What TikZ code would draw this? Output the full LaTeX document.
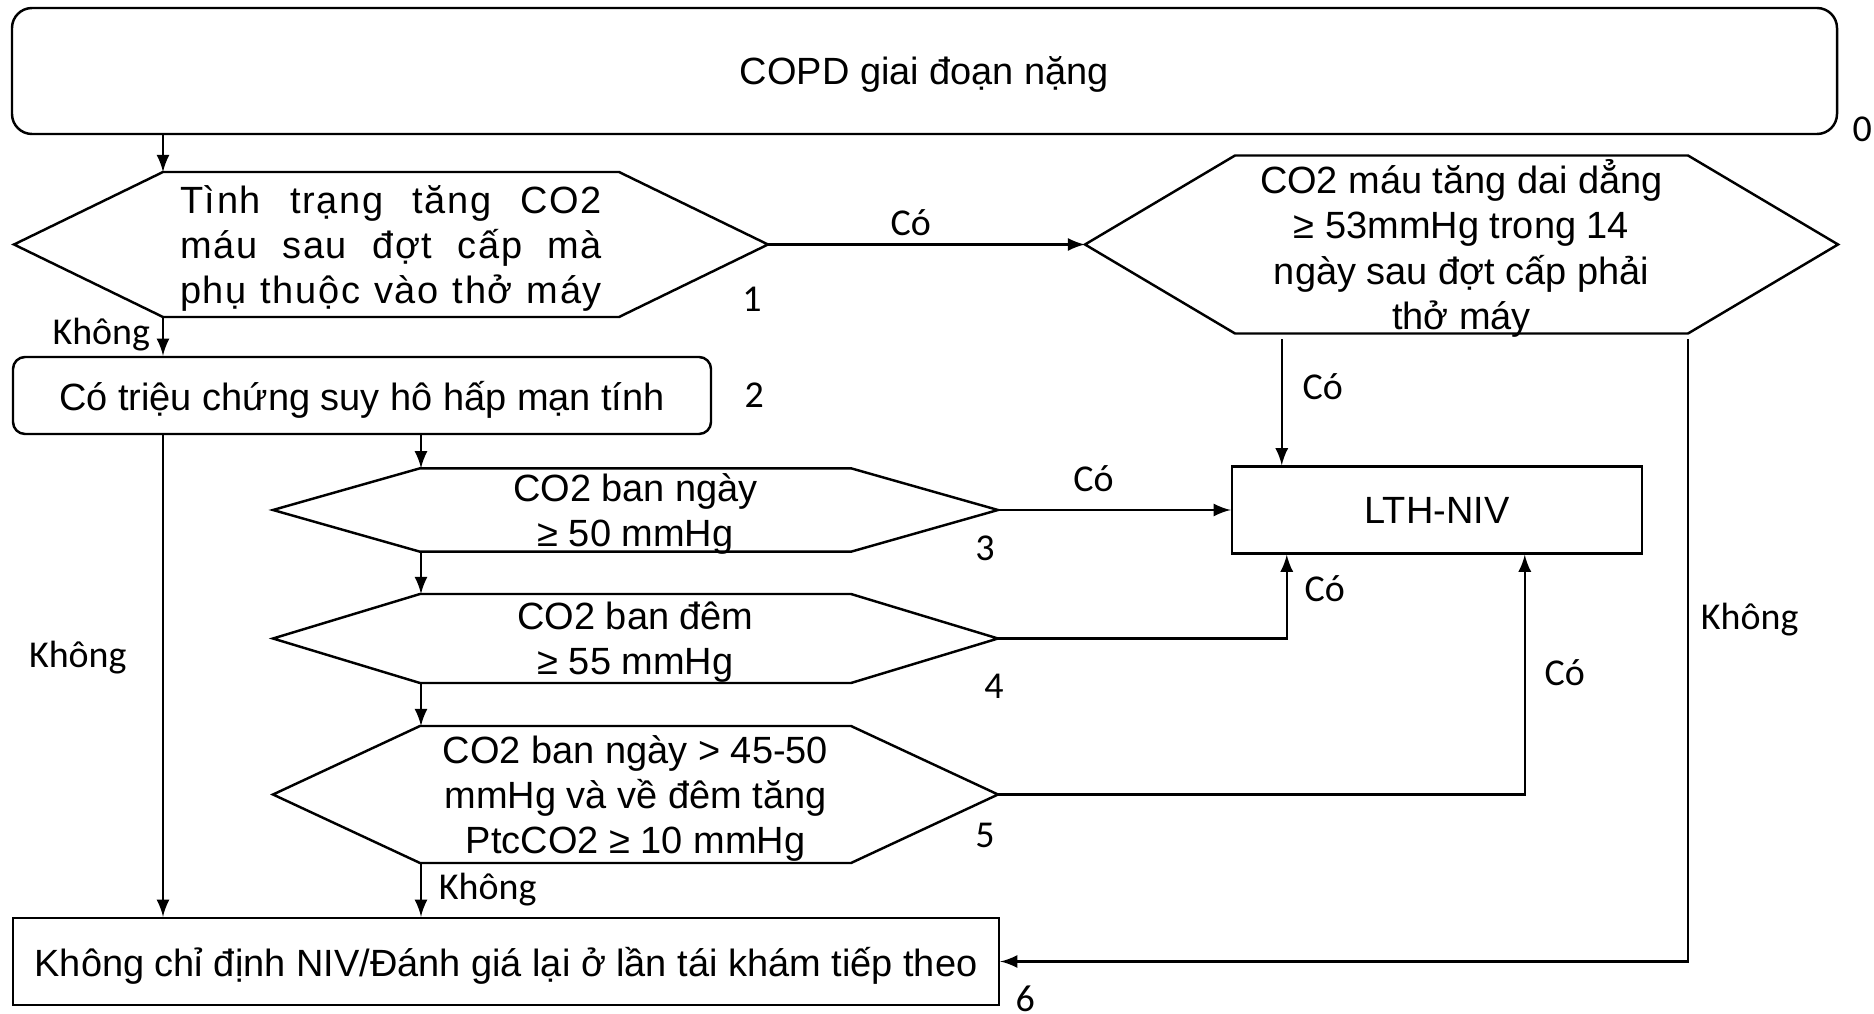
\documentclass[tikz,border=0pt]{standalone}
\usepackage{fontspec}
\setmainfont{Liberation Sans}
\newfontfamily\lblfont{Carlito}
\usetikzlibrary{arrows, calc, positioning}

\tikzstyle{roundbox} = [rectangle, rounded corners=0.2cm, minimum width=18.25cm, minimum height=1.26cm, text centered, text depth=0pt, draw=black, line width=0.7pt]
\tikzstyle{plainbox} = [rectangle, minimum height=0.87cm, text centered, text depth=0pt, draw=black, line width=0.7pt]
\tikzstyle{hexcell} = [rectangle, inner sep=0pt, outer sep=0pt, minimum width=7.25cm, align=center, text depth=0pt]
\tikzstyle{arrow} = [line width=0.7pt,->,>=latex]
\tikzstyle{yesno} = [font=\lblfont\fontsize{10.8}{12.9}\selectfont, text depth=0pt]
\tikzstyle{stepno} = [font=\lblfont\fontsize{10.8}{12.9}\selectfont, inner sep=0pt]

\newcommand{\hexframe}[2]{\draw [line width=0.7pt] (#1.west) -- ([xshift=#2]#1.north west) -- ([xshift=-#2]#1.north east) -- (#1.east) -- ([xshift=-#2]#1.south east) -- ([xshift=#2]#1.south west) -- cycle;}

\begin{document}
\begin{tikzpicture}[node distance=2cm, font=\fontsize{10.8}{12.9}\selectfont]
\useasboundingbox (0,0) rectangle (18.74,-10.14);

\node (start) [roundbox] at (9.245,-0.71) {COPD giai đoạn nặng};

\node (dep) [hexcell, below of=start, xshift=-5.335cm, yshift=0.265cm, minimum width=7.54cm, minimum height=1.45cm, font=\fontsize{10.8}{12.9}\selectfont\addfontfeatures{LetterSpace=4.5}] {\makebox[4.22cm][s]{Tình trạng tăng CO2}\\ \makebox[4.22cm][s]{máu sau đợt cấp mà}\\ \makebox[4.22cm][s]{phụ thuộc vào thở máy}};

\node (late) [hexcell, right of=dep, xshift=8.705cm, minimum width=7.53cm, minimum height=1.78cm] {CO2 máu tăng dai dẳng\\ ≥ 53mmHg trong 14\\ ngày sau đợt cấp phải\\ thở máy};

\node (symp) [plainbox, below of=dep, xshift=-0.29cm, yshift=0.49cm, rounded corners=0.12cm, minimum width=6.98cm, minimum height=0.77cm] {Có triệu chứng suy hô hấp mạn tính};

\node (day) [hexcell, below of=symp, xshift=2.735cm, yshift=0.855cm, minimum height=0.834cm] {CO2 ban ngày\\ ≥ 50 mmHg};

\node (night) [hexcell, below of=day, yshift=0.715cm, minimum height=0.89cm] {CO2 ban đêm\\ ≥ 55 mmHg};

\node (combo) [hexcell, below of=night, yshift=0.44cm, minimum height=1.37cm] {CO2 ban ngày > 45-50\\ mmHg và về đêm tăng\\ PtcCO2 ≥ 10 mmHg};

\node (niv) [plainbox, right of=day, xshift=6.015cm, minimum width=4.10cm] {LTH-NIV};

\node (noniv) [plainbox, below of=combo, xshift=-1.295cm, yshift=0.33cm, minimum width=9.86cm] {Không chỉ định NIV/Đánh giá lại ở lần tái khám tiếp theo};

\hexframe{dep}{1.49cm}
\hexframe{late}{1.50cm}
\hexframe{day}{1.47cm}
\hexframe{night}{1.47cm}
\hexframe{combo}{1.47cm}

% step numbers
\node (n0) [stepno] at ($(start.south east)+(0.24,0.06)$) {0};
\node (n1) [stepno] at ($(dep.south east)+(-0.16,0.18)$) {1};
\node (n2) [stepno] at ($(symp.east)+(0.42,0)$) {2};
\node (n3) [stepno] at ($(day.south east)+(-0.13,0.03)$) {3};
\node (n4) [stepno] at ($(night.south east)+(-0.04,-0.03)$) {4};
\node (n5) [stepno] at ($(combo.south east)+(-0.13,0.28)$) {5};
\node (n6) [stepno] at ($(noniv.south east)+(0.25,0.07)$) {6};

\coordinate (deptop) at ([xshift=1.49cm]dep.north west);
\coordinate (depbot) at ([xshift=1.49cm]dep.south west);
\coordinate (latebot) at ([xshift=-1.5cm]late.south east);
\coordinate (nivtop) at ([xshift=0.51cm]niv.north west);
\coordinate (daytop) at ([xshift=1.48cm]day.north west);
\coordinate (daybot) at ([xshift=1.48cm]day.south west);
\coordinate (nighttop) at ([xshift=1.48cm]night.north west);
\coordinate (nightbot) at ([xshift=1.48cm]night.south west);
\coordinate (combotop) at ([xshift=1.48cm]combo.north west);
\coordinate (combobot) at ([xshift=1.48cm]combo.south west);

\draw [arrow] (start.south -| deptop) -- (deptop);
\draw [arrow] (dep.east) -- node[above, pos=0.45, yshift=-0.035cm, yesno] {Có} (late.west);
\draw [arrow] (depbot) -- node[left, pos=0.375, yesno] {Không} (depbot |- symp.north);

\draw [arrow, shorten <=0.06cm] (late.south -| nivtop) -- node[right, pos=0.40, xshift=0.08cm, yesno] {Có} (nivtop);
\draw [arrow, shorten <=0.06cm] (latebot) |- node[right, pos=0.225, yesno] {Không} (noniv.east);

\draw [arrow] (symp.south -| depbot) -- node[left, pos=0.455, xshift=-0.235cm, yesno] {Không} (noniv.north -| depbot);
\draw [arrow] (symp.south -| daytop) -- (daytop);

\draw [arrow] (daybot) -- (nighttop);
\draw [arrow] (nightbot) -- (combotop);
\draw [arrow] (combobot) -- node[right, pos=0.44, xshift=0.05cm, yesno] {Không} (combobot |- noniv.north);

\draw [arrow] (day.east) -- node[above, pos=0.41, yshift=0.06cm, yesno] {Có} (day.east -| niv.west);
\draw [arrow] (night.east) -| node[right, pos=0.80, xshift=0.05cm, yesno] {Có} ([xshift=0.56cm]niv.south west);
\draw [arrow] (combo.east) -| node[right, pos=0.755, xshift=0.07cm, yesno] {Có} ([xshift=2.94cm]niv.south west);

\end{tikzpicture}
\end{document}
